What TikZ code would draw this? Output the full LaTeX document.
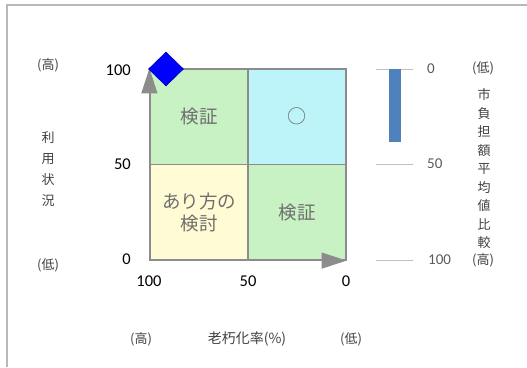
\documentclass[tikz,border=0pt]{standalone}
\usepackage{fontspec}
\setmainfont{Carlito}
\newfontfamily\jp{Noto Sans CJK JP}
\usetikzlibrary{arrows.meta,shapes.geometric}

\definecolor{gridgray}{RGB}{140,140,140}
\definecolor{labgray}{RGB}{110,110,110}
\definecolor{txtgray}{RGB}{64,64,64}
\definecolor{scalegray}{RGB}{89,89,89}
\definecolor{tickgray}{RGB}{191,191,191}
\definecolor{cellgreen}{RGB}{200,241,196}
\definecolor{cellcyan}{RGB}{188,244,250}
\definecolor{cellyellow}{RGB}{255,251,212}
\definecolor{barblue}{RGB}{79,129,189}

\begin{document}
\begin{tikzpicture}[
  x=1pt, y=-1pt,
  cell/.style={draw=gridgray, line width=1.2pt, minimum width=98pt, minimum height=95.5pt,
    inner sep=0pt, align=center, text=labgray, font=\jp\fontsize{18.5}{22}\selectfont},
  axis/.style={draw=gridgray, line width=1.2pt, -{Triangle[length=25pt, width=16pt]}},
  num/.style={font=\fontsize{16.5}{16.5}\selectfont, inner sep=0pt},
  scalenum/.style={font=\fontsize{15}{15}\selectfont, text=scalegray, inner sep=0pt},
  lab/.style={font=\jp\fontsize{13}{13}\selectfont, text=txtgray, inner sep=0pt},
  stack/.style={font=\jp\fontsize{13}{#1}\selectfont, text=txtgray, align=center, inner sep=0pt},
  tick/.style={draw=tickgray, line width=1pt}
]
\useasboundingbox (0,0) rectangle (527,367);

% ---- Outer frame ----
\draw[gray!55, line width=1.3pt] (7,367) -- (7,5) -- (527,5);

% ---- Quadrants ----
\node[cell, fill=cellgreen] (qtl) at (199,116.75) {検証};
\node[cell, fill=cellcyan, font=\jp\fontsize{19}{19}\selectfont] (qtr) at (297,116.75) {○};
\node[cell, fill=cellyellow] (qbl) at (199,212.25) {あり方の\\検討};
\node[cell, fill=cellgreen] (qbr) at (297,212.25) {検証};

% ---- Axes ----
\draw[axis] (qbl.south west) -- (qtl.north west);
\draw[axis] (qbl.south west) -- (qbr.south east);
\node[diamond, fill=blue, draw=blue!75!black, line width=0.6pt, minimum width=35pt, minimum height=34pt, inner sep=0pt] (mark) at (166,69) {};

% ---- Utilisation axis ----
\node[num, anchor=east] (y100) at (131,70) {100};
\node[num, anchor=east] (y50) at (131,164) {50};
\node[num, anchor=east] (y0) at (131,259) {0};
\node[lab] (yhi) at (48,65) {(高)};
\node[stack=21] (yname) at (48,169) {利\\用\\状\\況};
\node[lab] (ylo) at (48,265) {(低)};

% ---- Ageing axis ----
\node[num] (x100) at (149,281) {100};
\node[num] (x50) at (248,281) {50};
\node[num] (x0) at (346,281) {0};
\node[lab] (xhi) at (141,339) {(高)};
\node[lab, font=\jp\fontsize{14}{14}\selectfont] (xname) at (247,339) {老朽化率(\%)};
\node[lab] (xlo) at (351,339) {(低)};

% ---- Burden scale ----
\draw[tick] (376,69) -- (413,69);
\draw[tick] (376,164.5) -- (413,164.5);
\draw[tick] (376,260.5) -- (413,260.5);
\fill[barblue] (389,69) rectangle (401,142);
\node[scalenum, anchor=west] (s0) at (427,69) {0};
\node[scalenum, anchor=west] (s50) at (427,164) {50};
\node[scalenum, anchor=west] (s100) at (428,260) {100};
\node[lab] (slo) at (483,68) {(低)};
\node[stack=18.5] (sname) at (484,169) {市\\負\\担\\額\\平\\均\\値\\比\\較};
\node[lab] (shi) at (483,260) {(高)};

\end{tikzpicture}
\end{document}
